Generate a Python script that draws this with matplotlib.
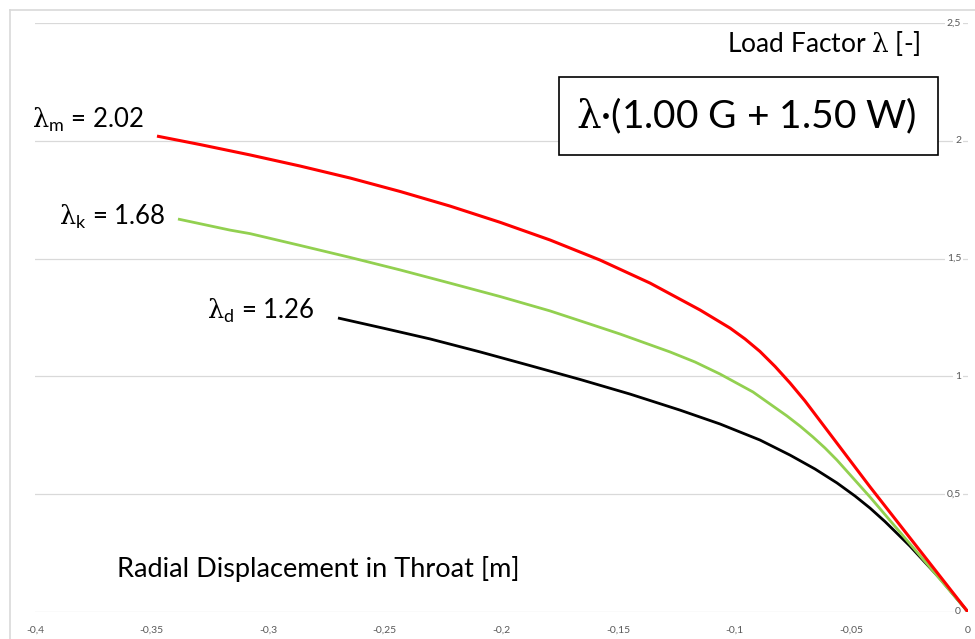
import matplotlib
matplotlib.use("Agg")
import matplotlib.pyplot as plt
from matplotlib.lines import Line2D
from matplotlib.patches import Rectangle

plt.rcParams['font.family'] = ['Lato', 'DejaVu Sans']
plt.rcParams['mathtext.fontset'] = 'custom'
plt.rcParams['mathtext.rm'] = 'DejaVu Serif'
plt.rcParams['mathtext.sf'] = 'Lato'

# ---- data ----
red_x = [-0.3477, -0.3292, -0.3078, -0.2864, -0.2649, -0.2435, -0.2221, -0.2006,
         -0.1792, -0.1578, -0.1363, -0.1149, -0.1020, -0.0956, -0.0892, -0.0827,
         -0.0763, -0.0699, -0.0634, -0.0420, 0.0]
red_y = [2.020, 1.984, 1.940, 1.893, 1.842, 1.785, 1.723, 1.654,
         1.579, 1.494, 1.396, 1.282, 1.205, 1.159, 1.106, 1.042,
         0.972, 0.896, 0.811, 0.531, 0.0]

green_x = [-0.3387, -0.3164, -0.3078, -0.2864, -0.2649, -0.2435, -0.2221, -0.2006,
           -0.1792, -0.1620, -0.1492, -0.1278, -0.1170, -0.1063, -0.0922, -0.0776,
           -0.0720, -0.0665, -0.0613, -0.0562, -0.0420, 0.0]
green_y = [1.668, 1.621, 1.606, 1.556, 1.505, 1.452, 1.396, 1.339,
           1.278, 1.222, 1.180, 1.104, 1.061, 1.010, 0.934, 0.832,
           0.789, 0.743, 0.696, 0.645, 0.488, 0.0]

black_x = [-0.2701, -0.2508, -0.2306, -0.2092, -0.1878, -0.1663, -0.1449, -0.1235,
           -0.1063, -0.0892, -0.0763, -0.0656, -0.0562, -0.0484, -0.0420, -0.0356,
           -0.0249, -0.0120, 0.0]
black_y = [1.248, 1.205, 1.159, 1.104, 1.046, 0.987, 0.925, 0.857,
           0.798, 0.730, 0.666, 0.607, 0.548, 0.492, 0.441, 0.384,
           0.280, 0.142, 0.0]

x_ticks = [-0.4, -0.35, -0.3, -0.25, -0.2, -0.15, -0.1, -0.05, 0.0]
x_tick_labels = ['-0,4', '-0,35', '-0,3', '-0,25', '-0,2', '-0,15', '-0,1', '-0,05', '0']
y_ticks = [0, 0.5, 1.0, 1.5, 2.0, 2.5]
y_tick_labels = ['0', '0,5', '1', '1,5', '2', '2,5']

# ---- figure ----
W, H = 975, 639
fig = plt.figure(figsize=(W / 100, H / 100), dpi=100)
ax = fig.add_axes([35 / W, (H - 612) / H, 933 / W, 589 / H])
ax.set_xlim(-0.4, 0.0)
ax.set_ylim(0, 2.5)
for s in ax.spines.values():
    s.set_visible(False)

grid_c = '#d9d9d9'
for yv in y_ticks:
    ax.axhline(yv, color=grid_c, lw=0.9, zorder=0)

ax.set_xticks(x_ticks)
ax.set_xticklabels(x_tick_labels, fontsize=7.5, color='#595959')
ax.tick_params(axis='x', length=0, pad=10)
ax.set_yticks([])

for yv, lab in zip(y_ticks, y_tick_labels):
    ax.annotate(lab, xy=(0.0, yv), xytext=(-5, 0), textcoords='offset points',
                ha='right', va='center', fontsize=7.5, color='#595959',
                bbox=dict(boxstyle='square,pad=0.15', fc='white', ec='none'),
                zorder=1)

ax.plot(black_x, black_y, color='#000000', lw=2.0, zorder=3,
        solid_capstyle='butt', solid_joinstyle='round')
ax.plot(green_x, green_y, color='#92D050', lw=2.0, zorder=4,
        solid_capstyle='butt', solid_joinstyle='round')
ax.plot(red_x, red_y, color='#FF0000', lw=2.2, zorder=5,
        solid_capstyle='butt', solid_joinstyle='round')

# ---- texts ----
fig.text(727 / W, 1 - 44 / H, r'Load Factor $\mathrm{\lambda}$ [-]', fontsize=19,
         ha='left', va='center')
fig.add_artist(Rectangle((559 / W, 1 - 155 / H), 379 / W, 78 / H,
                         transform=fig.transFigure, fill=True, fc='white',
                         ec='black', lw=1.2))
fig.text(746 / W, 1 - 116 / H, r'$\mathrm{\lambda}$·(1.00 G + 1.50 W)', fontsize=28,
         ha='center', va='center')
fig.text(32 / W, 1 - 120 / H, r'$\mathrm{\lambda}_\mathsf{m}$ = 2.02', fontsize=18.5,
         ha='left', va='center')
fig.text(59 / W, 1 - 217 / H, r'$\mathrm{\lambda}_\mathsf{k}$ = 1.68', fontsize=18.5,
         ha='left', va='center')
fig.text(207 / W, 1 - 311 / H, r'$\mathrm{\lambda}_\mathsf{d}$ = 1.26', fontsize=18.5,
         ha='left', va='center')
fig.text(117 / W, 1 - 569 / H, 'Radial Displacement in Throat [m]', fontsize=19.5,
         ha='left', va='center')

# chart border (top / left)
fig.add_artist(Line2D([10 / W, 1.0], [1 - 10 / H, 1 - 10 / H], color=grid_c, lw=1.2,
                      transform=fig.transFigure))
fig.add_artist(Line2D([10 / W, 10 / W], [1 - 10 / H, 0.0], color=grid_c, lw=1.2,
                      transform=fig.transFigure))

fig.savefig('out.png', dpi=100)
